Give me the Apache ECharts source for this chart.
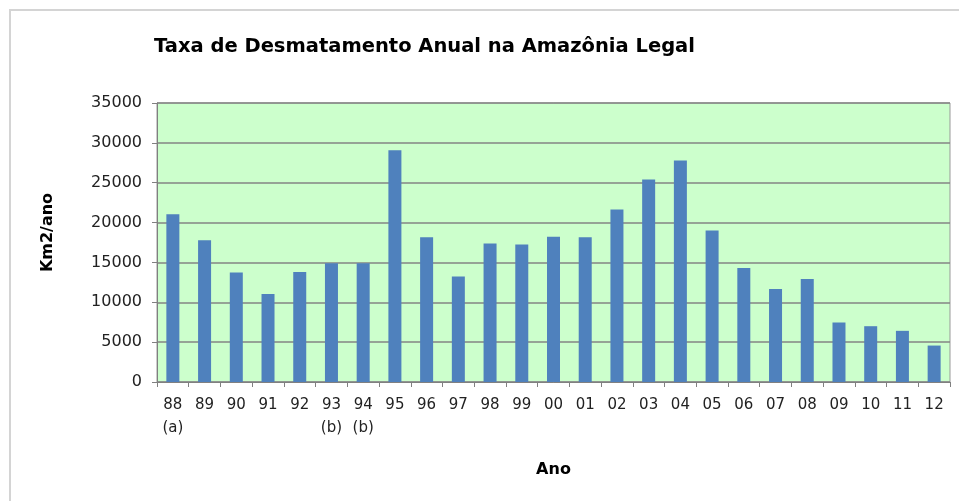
<!DOCTYPE html>
<html>
<head>
<meta charset="utf-8">
<script src="https://cdn.jsdelivr.net/npm/echarts@6/dist/echarts.min.js"></script>
<style>
  html, body { margin: 0; padding: 0; background: #fff; }
  #chart { width: 959px; height: 501px; }
</style>
</head>
<body>
<div id="chart"></div>
<script>
const years = ['88\n(a)', '89', '90', '91', '92', '93\n(b)', '94\n(b)', '95', '96', '97', '98', '99',
  '00', '01', '02', '03', '04', '05', '06', '07', '08', '09', '10', '11', '12'];
const desmatamento = [21050, 17770, 13730, 11030, 13786, 14896, 14896, 29059, 18161, 13227, 17383, 17259,
  18226, 18165, 21651, 25396, 27772, 19014, 14286, 11651, 12911, 7464, 7000, 6418, 4571];
const yMax = 35000;
const yStep = 5000;

const font = 'DejaVu Sans';
const chart = echarts.init(document.getElementById('chart'));
chart.setOption({
  animation: false,
  title: {
    text: 'Taxa de Desmatamento Anual na Amazônia Legal',
    left: 149,
    top: 32,
    textStyle: { fontFamily: font, fontSize: 19.5, fontWeight: 'bold', color: '#000' }
  },
  graphic: [
    {
      type: 'polyline',
      shape: { points: [[10, 501], [10, 10], [959, 10]] },
      style: { stroke: '#d4d4d4', lineWidth: 2, fill: null }
    }
  ],
  grid: {
    left: 157,
    right: 9,
    top: 103,
    bottom: 119,
    show: true,
    backgroundColor: '#CCFFCC',
    borderColor: '#999',
    borderWidth: 1
  },
  xAxis: {
    type: 'category',
    data: years,
    name: 'Ano',
    nameLocation: 'middle',
    nameGap: 80,
    nameTextStyle: { fontFamily: font, fontSize: 16, fontWeight: 'bold', color: '#000' },
    axisLine: { lineStyle: { color: '#808080', width: 1 } },
    axisTick: { show: true, length: 5, lineStyle: { color: '#808080' } },
    axisLabel: {
      interval: 0,
      margin: 12,
      fontFamily: font,
      fontSize: 15,
      color: '#222',
      lineHeight: 23,
      verticalAlign: 'top'
    }
  },
  yAxis: {
    type: 'value',
    min: 0,
    max: yMax,
    interval: yStep,
    name: 'Km2/ano',
    nameLocation: 'middle',
    nameGap: 101,
    nameTextStyle: { fontFamily: font, fontSize: 16, fontWeight: 'bold', color: '#000', padding: [0, 0, 0, 20] },
    axisLine: { show: true, lineStyle: { color: '#808080', width: 1 } },
    axisTick: { show: true, length: 5, lineStyle: { color: '#808080' } },
    axisLabel: { margin: 15, fontFamily: font, fontSize: 16, color: '#222', formatter: v => String(v) },
    splitLine: { lineStyle: { color: '#858585', width: 1.5 } }
  },
  series: [
    {
      type: 'bar',
      data: desmatamento,
      barWidth: 13,
      itemStyle: { color: '#4F81BD' }
    }
  ]
});
</script>
</body>
</html>
